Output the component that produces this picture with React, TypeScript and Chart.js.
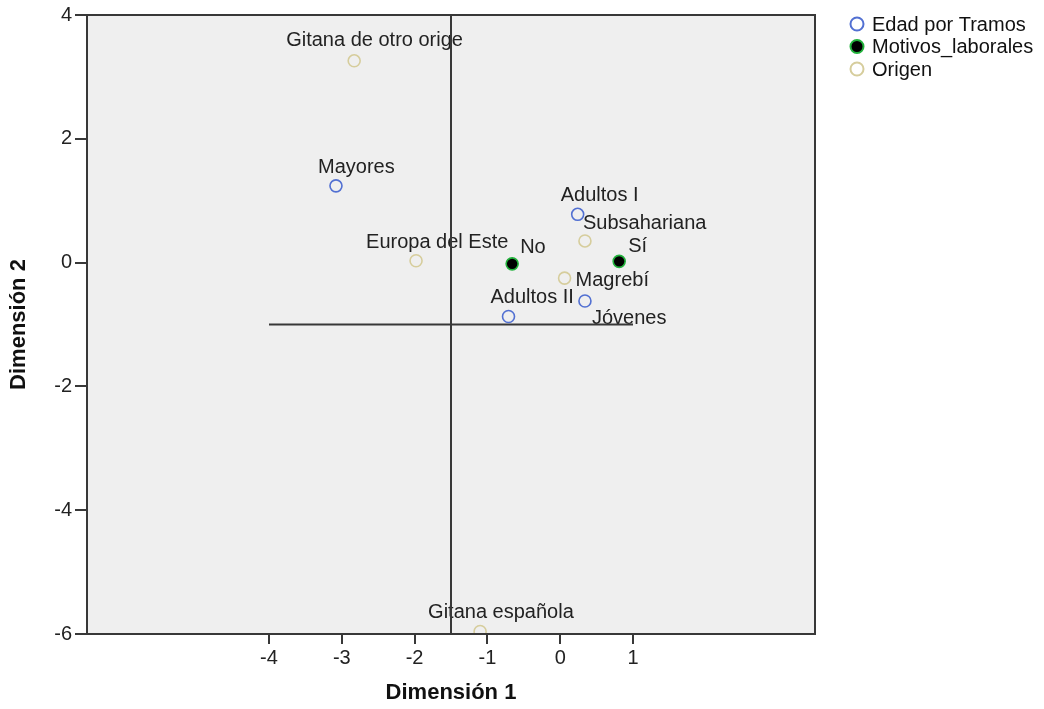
import React, { useEffect, useRef } from "react";
import { Chart, registerables } from "chart.js";

Chart.register(...registerables);

// ---- data ----
const seriesNames = ["Edad por Tramos", "Motivos_laborales", "Origen"];

const edadLabels = ["Mayores", "Adultos I", "Adultos II", "Jóvenes"];
const edadX = [-3.08, 0.24, -0.71, 0.34];
const edadY = [1.24, 0.78, -0.87, -0.62];

const motivosLabels = ["No", "Sí"];
const motivosX = [-0.66, 0.81];
const motivosY = [-0.02, 0.02];

const origenLabels = ["Gitana de otro orige", "Europa del Este", "Subsahariana", "Magrebí", "Gitana española"];
const origenX = [-2.83, -1.98, 0.34, 0.06, -1.1];
const origenY = [3.26, 0.03, 0.35, -0.25, -5.96];

const xTicks = [-4, -3, -2, -1, 0, 1];
const yTicks = [4, 2, 0, -2, -4, -6];
const xRange = [-6.5, 3.5];
const yRange = [-6, 4];

// reference lines (SPSS centre lines)
const refVerticalX = [-1.5, -1.5];
const refVerticalY = [-6, 4];
const refHorizontalX = [-4, 1];
const refHorizontalY = [-1, -1];

// label placement relative to the point: [dx to text left, dy to text middle] in px
const labelOffsets: Record<string, [number, number]> = {
  "Gitana de otro orige": [-68, -20],
  Mayores: [-18, -18.5],
  "Europa del Este": [-50, -18.5],
  "Adultos I": [-17, -18.5],
  Subsahariana: [-2, -17],
  No: [8, -16],
  "Sí": [9, -15],
  "Magrebí": [11, 2],
  "Adultos II": [-18, -19],
  "Jóvenes": [7, 18],
  "Gitana española": [-52, -19],
};

const FONT = "'Liberation Sans', Arial, sans-serif";
const BLUE = "#5270d2";
const GREEN = "#22b23c";
const BEIGE = "#d6cd9c";
const LINE = "#383838";

const toPts = (xs: number[], ys: number[]) => xs.map((x, i) => ({ x, y: ys[i] }));

const bgPlugin = {
  id: "plotBg",
  beforeDraw(chart: any) {
    const { ctx, chartArea: a } = chart;
    ctx.save();
    ctx.fillStyle = "#efefef";
    ctx.fillRect(a.left, a.top, a.right - a.left, a.bottom - a.top);
    ctx.restore();
  },
};

const labelPlugin = {
  id: "pointTexts",
  beforeDatasetsDraw(chart: any) {
    const { ctx } = chart;
    ctx.save();
    ctx.font = `20px ${FONT}`;
    ctx.fillStyle = "#222";
    ctx.textAlign = "left";
    ctx.textBaseline = "middle";
    chart.data.datasets.forEach((ds: any, di: number) => {
      if (!ds.pointLabels) return;
      const meta = chart.getDatasetMeta(di);
      meta.data.forEach((el: any, i: number) => {
        const txt = ds.pointLabels[i];
        const off = labelOffsets[txt] || [6, -16];
        ctx.fillText(txt, el.x + off[0], el.y + off[1]);
      });
    });
    ctx.restore();
  },
};

const framePlugin = {
  id: "frame",
  afterDatasetsDraw(chart: any) {
    const { ctx, chartArea: a } = chart;
    ctx.save();
    ctx.strokeStyle = LINE;
    ctx.lineWidth = 2;
    ctx.strokeRect(a.left, a.top, a.right - a.left, a.bottom - a.top);
    ctx.restore();
  },
};

const legendPlugin = {
  id: "sideLegend",
  afterDraw(chart: any) {
    const { ctx } = chart;
    const rows = [24, 46.5, 69];
    ctx.save();
    ctx.font = `20px ${FONT}`;
    ctx.textAlign = "left";
    ctx.textBaseline = "middle";
    chart.data.datasets.forEach((ds: any, di: number) => {
      if (!ds.pointLabels) return;
      const y = rows[di];
      ctx.beginPath();
      ctx.arc(857, y, 6.5, 0, Math.PI * 2);
      if (ds.pointBackgroundColor && ds.pointBackgroundColor !== "rgba(0,0,0,0)") {
        ctx.fillStyle = ds.pointBackgroundColor;
        ctx.fill();
      }
      ctx.lineWidth = 2;
      ctx.strokeStyle = ds.pointBorderColor;
      ctx.stroke();
      ctx.fillStyle = "#111";
      ctx.fillText(ds.label, 872, y + 1);
    });
    ctx.restore();
  },
};

export default function App() {
  const ref = useRef<HTMLCanvasElement | null>(null);

  useEffect(() => {
    if (!ref.current) return;
    const chart = new Chart(ref.current, {
      type: "scatter",
      data: {
        datasets: [
          {
            label: seriesNames[0],
            data: toPts(edadX, edadY),
            pointLabels: edadLabels,
            pointRadius: 6,
            pointBorderWidth: 1.6,
            pointBorderColor: BLUE,
            pointBackgroundColor: "rgba(0,0,0,0)",
            showLine: false,
          } as any,
          {
            label: seriesNames[1],
            data: toPts(motivosX, motivosY),
            pointLabels: motivosLabels,
            pointRadius: 6,
            pointBorderWidth: 1.6,
            pointBorderColor: GREEN,
            pointBackgroundColor: "#000",
            showLine: false,
          } as any,
          {
            label: seriesNames[2],
            data: toPts(origenX, origenY),
            pointLabels: origenLabels,
            pointRadius: 6,
            pointBorderWidth: 1.6,
            pointBorderColor: BEIGE,
            pointBackgroundColor: "rgba(0,0,0,0)",
            showLine: false,
          } as any,
          {
            label: "refV",
            data: toPts(refVerticalX, refVerticalY),
            showLine: true,
            pointRadius: 0,
            borderColor: LINE,
            borderWidth: 2,
          } as any,
          {
            label: "refH",
            data: toPts(refHorizontalX, refHorizontalY),
            showLine: true,
            pointRadius: 0,
            borderColor: LINE,
            borderWidth: 2,
          } as any,
        ],
      },
      options: {
        animation: false,
        responsive: false,
        events: [],
        layout: { padding: { top: 13, right: 229, left: 0, bottom: 0 } },
        plugins: {
          legend: { display: false },
          tooltip: { enabled: false },
        },
        scales: {
          x: {
            type: "linear",
            min: xRange[0],
            max: xRange[1],
            afterBuildTicks: (s: any) => {
              s.ticks = xTicks.map((v) => ({ value: v }));
            },
            afterFit: (s: any) => {
              s.height = 75;
            },
            grid: {
              display: true,
              drawOnChartArea: false,
              drawTicks: true,
              tickLength: 10,
              tickColor: LINE,
              lineWidth: 2,
              color: LINE,
            },
            border: { display: true, color: LINE, width: 2 },
            ticks: {
              font: { size: 20, family: FONT },
              color: "#222",
              padding: 2,
              maxRotation: 0,
              autoSkip: false,
              callback: (v: any) => String(v),
            },
            title: {
              display: true,
              text: "Dimensión 1",
              font: { size: 22, weight: "bold", family: FONT },
              color: "#111",
              padding: { top: 0, bottom: 3 },
            },
          },
          y: {
            type: "linear",
            min: yRange[0],
            max: yRange[1],
            afterBuildTicks: (s: any) => {
              s.ticks = yTicks.map((v) => ({ value: v }));
            },
            afterFit: (s: any) => {
              s.width = 87;
            },
            grid: {
              display: true,
              drawOnChartArea: false,
              drawTicks: true,
              tickLength: 12,
              tickColor: LINE,
              lineWidth: 2,
              color: LINE,
            },
            border: { display: true, color: LINE, width: 2 },
            ticks: {
              font: { size: 20, family: FONT },
              color: "#222",
              padding: 3,
              autoSkip: false,
              callback: (v: any) => String(v),
            },
            title: {
              display: true,
              text: "Dimensión 2",
              font: { size: 22, weight: "bold", family: FONT },
              color: "#111",
              padding: { top: 6, bottom: 0 },
            },
          },
        },
      } as any,
      plugins: [bgPlugin, labelPlugin, framePlugin, legendPlugin],
    });
    return () => chart.destroy();
  }, []);

  return (
    <div style={{ position: "fixed", left: 0, top: 0, width: 1044, height: 709, background: "#fff" }}>
      <canvas ref={ref} width={1044} height={709} style={{ display: "block" }} />
    </div>
  );
}
